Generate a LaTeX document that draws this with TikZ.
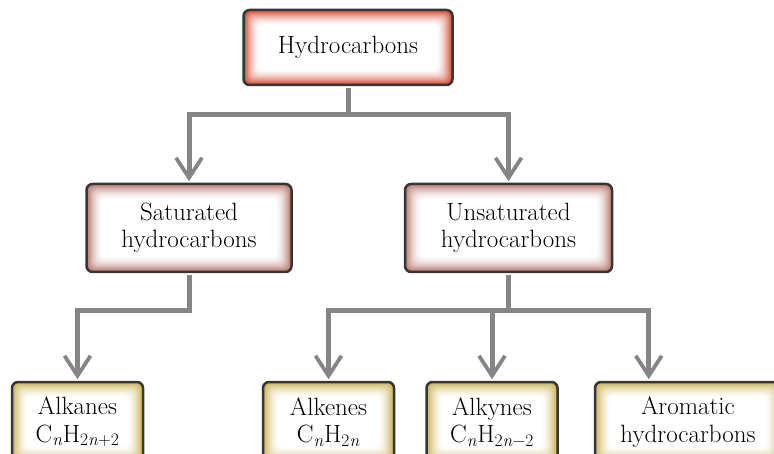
\documentclass[tikz,border=0pt]{standalone}
\usepackage{fontspec}
\usetikzlibrary{arrows.meta}

\definecolor{linkgray}{HTML}{858585}
\definecolor{rimdark}{HTML}{363636}
\definecolor{topglow}{HTML}{D4452D}
\definecolor{midglow}{HTML}{B5766B}
\definecolor{lowglow}{HTML}{C9B050}

\tikzset{
  glow/.style={path picture={
    \foreach \i [evaluate=\i as \p using int(100*(1-\i/16)^1.7)] in {0,...,15}
      \fill[#1!\p!white, rounded corners=6pt]
        ([shift={(\i*1pt,-\i*1pt)}]path picture bounding box.north west)
        rectangle ([shift={(-\i*1pt,\i*1pt)}]path picture bounding box.south east);
  }},
  box/.style={draw=rimdark, line width=2.5pt, rounded corners=6pt, align=center,
    inner sep=0pt, font=\fontsize{25}{27.5}\selectfont},
  link/.style={draw=linkgray, line width=5pt, shorten <=1.5pt, shorten >=1.5pt,
    -{Straight Barb[length=20pt, width=26pt, line width=3.8pt]}},
}

\begin{document}
\begin{tikzpicture}[x=1pt, y=-1pt]
  \useasboundingbox (0,0) rectangle (774,454);
  \clip (0,0) rectangle (774,454);

  \node[box, glow=topglow, minimum width=209pt, minimum height=75pt] (hc) at (348,47.5) {Hydrocarbons};

  \node[box, glow=midglow, minimum width=205pt, minimum height=88pt] (sat) at (189,228) {Saturated\\hydrocarbons};
  \node[box, glow=midglow, minimum width=207pt, minimum height=88pt] (unsat) at (508.5,228) {Unsaturated\\hydrocarbons};

  \node[box, glow=lowglow, minimum width=131pt, minimum height=80pt] (alkane) at (77.5,422) {Alkanes\\C\textsubscript{\textit{n}}H\textsubscript{2\textit{n}+2}};
  \node[box, glow=lowglow, minimum width=131pt, minimum height=80pt] (alkene) at (328.5,422) {Alkenes\\C\textsubscript{\textit{n}}H\textsubscript{2\textit{n}}};
  \node[box, glow=lowglow, minimum width=131pt, minimum height=80pt] (alkyne) at (492,422) {Alkynes\\C\textsubscript{\textit{n}}H\textsubscript{2\textit{n}−2}};
  \node[box, glow=lowglow, minimum width=186pt, minimum height=80pt] (arom) at (688,422) {Aromatic\\hydrocarbons};

  % first split
  \draw[link] (hc.south) -- ++(0,28) -| (sat.north);
  \draw[link] (hc.south) -- ++(0,28) -| (unsat.north);

  % second level
  \draw[link] (sat.south) -- ++(0,37) -| (alkane.north);
  \draw[link] (unsat.south) -- ++(0,37) -| (alkene.north);
  \draw[link] (unsat.south) -- ++(0,37) -| (alkyne.north);
  \draw[link] (unsat.south) -- ++(0,37) -| ([xshift=55pt]arom.north west);
\end{tikzpicture}
\end{document}
